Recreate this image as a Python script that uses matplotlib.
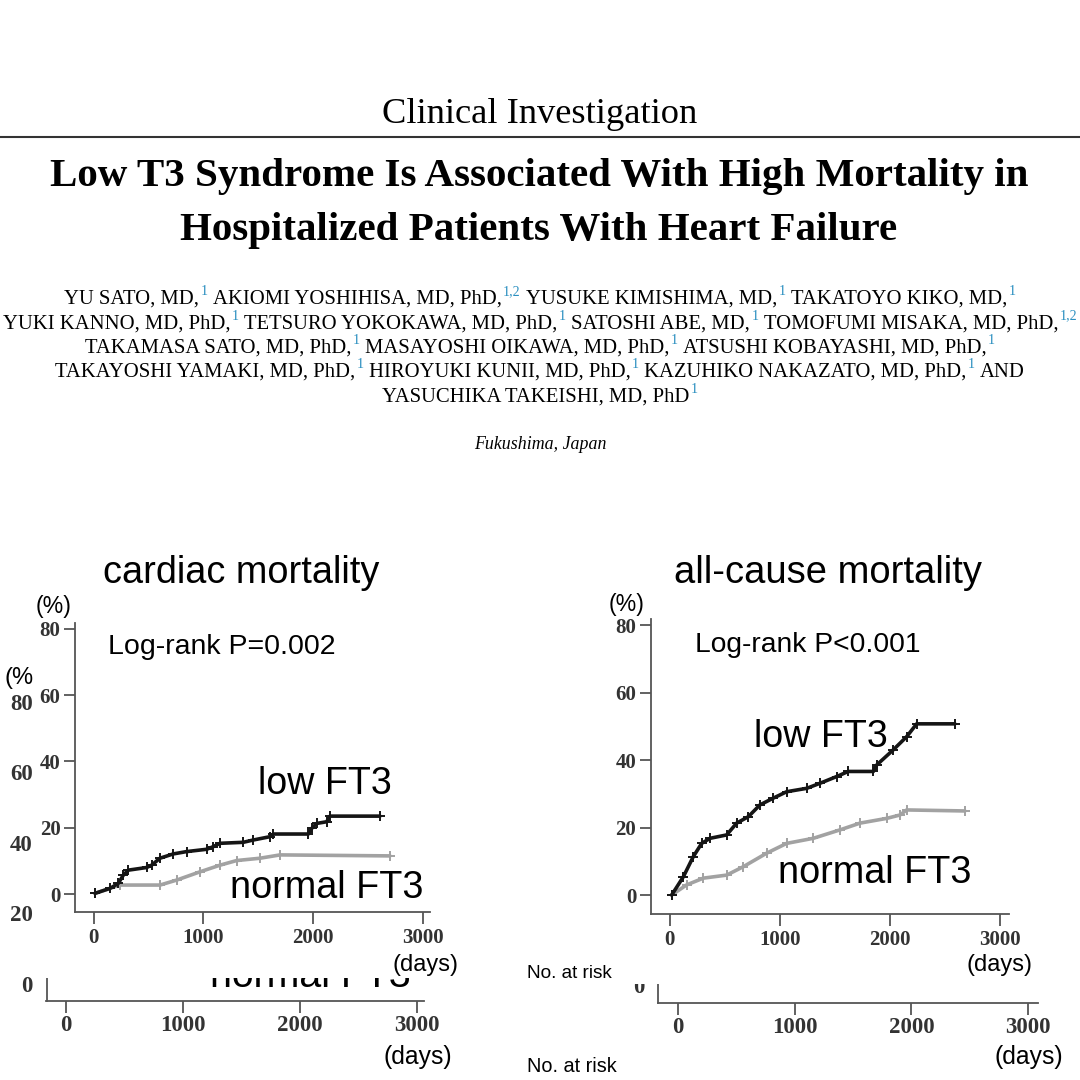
import matplotlib
matplotlib.use("Agg")
import matplotlib.pyplot as plt
from matplotlib.patches import Rectangle
from matplotlib.transforms import IdentityTransform

# Kaplan-Meier curves (days, cumulative %)
cardiac_low_days = [12, 149, 224, 270, 316, 483, 528, 604, 726, 847, 1030, 1090, 1151,
                    1363, 1455, 1607, 1637, 1956, 1987, 2032, 2123, 2153, 2609]
cardiac_low_pct = [0.2, 1.7, 3.2, 5.7, 7.2, 8.0, 8.7, 10.8, 12.1, 12.8, 13.5, 14.3, 15.3,
                   15.6, 16.3, 17.3, 18.1, 18.1, 19.8, 21.3, 21.8, 23.5, 23.5]
cardiac_norm_days = [12, 240, 604, 756, 969, 1151, 1303, 1516, 1698, 2700]
cardiac_norm_pct = [0.2, 2.7, 2.7, 4.2, 6.7, 8.7, 10.1, 10.8, 11.8, 11.5]

allcause_low_days = [17, 123, 214, 290, 366, 517, 608, 714, 820, 941, 1063, 1245, 1366,
                     1518, 1623, 1851, 1881, 2032, 2154, 2245, 2593]
allcause_low_pct = [0.1, 5.5, 11.5, 15.4, 16.9, 17.9, 21.4, 23.3, 26.8, 28.8, 30.7, 31.7,
                    33.2, 35.2, 36.7, 36.7, 38.6, 43.1, 47.0, 50.8, 50.8]
allcause_norm_days = [17, 153, 305, 517, 669, 881, 1063, 1305, 1548, 1730, 1972, 2093,
                      2154, 2684]
allcause_norm_pct = [0.1, 3.1, 5.1, 6.0, 8.5, 12.5, 15.4, 16.9, 19.4, 21.4, 22.8, 23.8,
                     25.3, 25.0]

x_ticks = [0, 1000, 2000, 3000]
y_ticks = [0, 20, 40, 60, 80]

section = "Clinical Investigation"
title_lines = ["Low T3 Syndrome Is Associated With High Mortality in",
               "Hospitalized Patients With Heart Failure"]
authors = [
    [("YU SATO, MD,", "1"), ("AKIOMI YOSHIHISA, MD, PhD,", "1,2"),
     ("YUSUKE KIMISHIMA, MD,", "1"), ("TAKATOYO KIKO, MD,", "1")],
    [("YUKI KANNO, MD, PhD,", "1"), ("TETSURO YOKOKAWA, MD, PhD,", "1"),
     ("SATOSHI ABE, MD,", "1"), ("TOMOFUMI MISAKA, MD, PhD,", "1,2")],
    [("TAKAMASA SATO, MD, PhD,", "1"), ("MASAYOSHI OIKAWA, MD, PhD,", "1"),
     ("ATSUSHI KOBAYASHI, MD, PhD,", "1")],
    [("TAKAYOSHI YAMAKI, MD, PhD,", "1"), ("HIROYUKI KUNII, MD, PhD,", "1"),
     ("KAZUHIKO NAKAZATO, MD, PhD,", "1"), ("AND", "")],
    [("YASUCHIKA TAKEISHI, MD, PhD", "1")],
]
place = "Fukushima, Japan"

W = 1080
SERIF = "Liberation Serif"
SANS = "Liberation Sans"
BLUE = "#2a8fc0"
LOW = "#151515"
NORM = "#a2a2a2"

fig = plt.figure(figsize=(10.8, 10.8), dpi=100)
fig.patch.set_facecolor("white")
r = fig.canvas.get_renderer()


def put(x, y, s, width=None, **kw):
    # x, y in pixels from the top-left corner
    t = fig.text(x / W, 1 - y / W, s, **kw)
    if width:
        w = t.get_window_extent(r).width
        t.set_fontsize(t.get_fontsize() * width / w)
    return t


def px_axes(x0, y0, x1, y1, **kw):
    return fig.add_axes([x0 / W, 1 - y1 / W, (x1 - x0) / W, (y1 - y0) / W], **kw)


def author_line(parts, y, size, draw=True):
    pieces = []
    for name, sup in parts:
        pieces.append((name, False))
        if sup:
            pieces.append((sup, True))
    sp = size * 0.25 * 100 / 72
    texts, widths = [], []
    for s, is_sup in pieces:
        t = fig.text(0, 0, s, fontsize=size * 0.68 if is_sup else size, family=SERIF,
                     color=BLUE if is_sup else "black", transform=IdentityTransform())
        texts.append(t)
        widths.append(t.get_window_extent(r).width)
    gaps = [1.5 if pieces[i + 1][1] else sp for i in range(len(pieces) - 1)] + [0]
    total = sum(widths) + sum(gaps)
    if not draw:
        for t in texts:
            t.remove()
        return total
    x = W / 2 - total / 2
    for t, (s, is_sup), w, g in zip(texts, pieces, widths, gaps):
        lift = size * 0.42 * 100 / 72 if is_sup else 0
        t.set_position((x, W - y + lift))
        x += w + g
    return total


# ---- header ----
put(540, 123, section, width=315, family=SERIF, fontsize=26, ha="center")
fig.add_artist(plt.Line2D([0, 1], [1 - 137 / W, 1 - 137 / W], transform=fig.transFigure,
                          color="#333333", lw=1.5))
t1 = put(539, 186, title_lines[0], width=982, family=SERIF, weight="bold", fontsize=24,
         ha="center")
put(539, 240, title_lines[1], family=SERIF, weight="bold", fontsize=t1.get_fontsize(),
    ha="center")

base = 11
size = base * 1073 / author_line(authors[1], 0, base, draw=False)
for i, parts in enumerate(authors):
    author_line(parts, 304 + i * 24.3, size)
put(540, 449, place, width=133, family=SERIF, style="italic", fontsize=10, ha="center")


def style(ax, xlim, ylim, yt, labsize, xlen, xpad, ylen, ypad):
    ax.set_xlim(xlim)
    ax.set_ylim(ylim)
    ax.set_facecolor("none")
    for s in ["top", "right"]:
        ax.spines[s].set_visible(False)
    for s in ["left", "bottom"]:
        ax.spines[s].set_color("#555555")
        ax.spines[s].set_linewidth(1.3)
    ax.set_xticks(x_ticks)
    ax.set_yticks(yt)
    ax.tick_params(axis="x", length=xlen, pad=xpad, width=1.3, color="#555555",
                   labelsize=labsize, labelcolor="#333333")
    ax.tick_params(axis="y", length=ylen, pad=ypad, width=1.3, color="#555555",
                   labelsize=labsize, labelcolor="#333333")
    for lab in ax.get_xticklabels() + ax.get_yticklabels():
        lab.set_fontfamily(SERIF)
        lab.set_fontweight("bold")


def km(ax, days, pct, color):
    ax.plot(days, pct, color=color, lw=2.6, marker="+", ms=7, mew=1.4,
            solid_capstyle="round")


# ---- ghost figure underneath (partly hidden) ----
g1 = px_axes(46.5, 690, 423.6, 1001.4, zorder=0)
style(g1, (-167.7, 3059), (-4.93, 83.3), y_ticks, 16.5, 8.5, 1.5, 0, 10)
g2 = px_axes(658, 690, 1037.6, 1003.2, zorder=0)
style(g2, (-168.6, 3079.5), (-5.16, 83.6), [0], 16.5, 8.5, 1.5, 0, 10)
put(5, 678, "(%)", family=SANS, fontsize=17, va="center", zorder=0.5)
put(210, 987, "normal FT3", width=201, family=SANS, fontsize=28, zorder=0.5)
put(418, 1057, "(days)", family=SANS, fontsize=17.8, ha="center", va="center")
put(1029, 1057, "(days)", family=SANS, fontsize=17.8, ha="center", va="center")

# white cards of the front figure
fig.add_artist(Rectangle((33 / W, 1 - 978 / W), (600 - 33) / W, (978 - 540) / W,
                         transform=fig.transFigure, facecolor="white", edgecolor="none",
                         zorder=1))
fig.add_artist(Rectangle((600 / W, 1 - 984 / W), (W - 600) / W, (984 - 540) / W,
                         transform=fig.transFigure, facecolor="white", edgecolor="none",
                         zorder=1))

# ---- front: cardiac mortality ----
ax1 = px_axes(75.1, 622.6, 429.8, 911.9, zorder=2)
style(ax1, (-169.5, 3063), (-5.4, 81.9), y_ticks, 15, 8.5, 3, 8, 2.5)
km(ax1, cardiac_norm_days, cardiac_norm_pct, NORM)
km(ax1, cardiac_low_days, cardiac_low_pct, LOW)

# ---- front: all-cause mortality ----
ax2 = px_axes(650.9, 618.5, 1009, 913.6, zorder=2)
style(ax2, (-171.9, 3084.5), (-5.4, 82.0), y_ticks, 15, 8.5, 3, 8, 2.5)
km(ax2, allcause_norm_days, allcause_norm_pct, NORM)
km(ax2, allcause_low_days, allcause_low_pct, LOW)

# chart texts
put(102.6, 583, "cardiac mortality", width=276, family=SANS, fontsize=27)
put(674.3, 583, "all-cause mortality", width=307, family=SANS, fontsize=27)
put(36, 607, "(%)", width=36, family=SANS, fontsize=16, va="center")
put(609, 605, "(%)", width=36, family=SANS, fontsize=16, va="center")
put(108.5, 653.6, "Log-rank P=0.002", width=227, family=SANS, fontsize=20)
put(695, 652, "Log-rank P<0.001", width=225, family=SANS, fontsize=20)
put(258, 794, "low FT3", width=134, family=SANS, fontsize=27)
put(753.5, 746.6, "low FT3", width=134, family=SANS, fontsize=27)
put(229.7, 898, "normal FT3", width=193, family=SANS, fontsize=27)
put(777.6, 882.6, "normal FT3", width=193, family=SANS, fontsize=27)
put(425.6, 965, "(days)", width=66, family=SANS, fontsize=17, ha="center", va="center")
put(1000, 965, "(days)", width=66, family=SANS, fontsize=17, ha="center", va="center")
put(527, 973, "No. at risk", width=86, family=SANS, fontsize=14, va="center")
put(527, 1066, "No. at risk", width=90, family=SANS, fontsize=14, va="center")

fig.savefig("out.png", dpi=100, facecolor="white")
